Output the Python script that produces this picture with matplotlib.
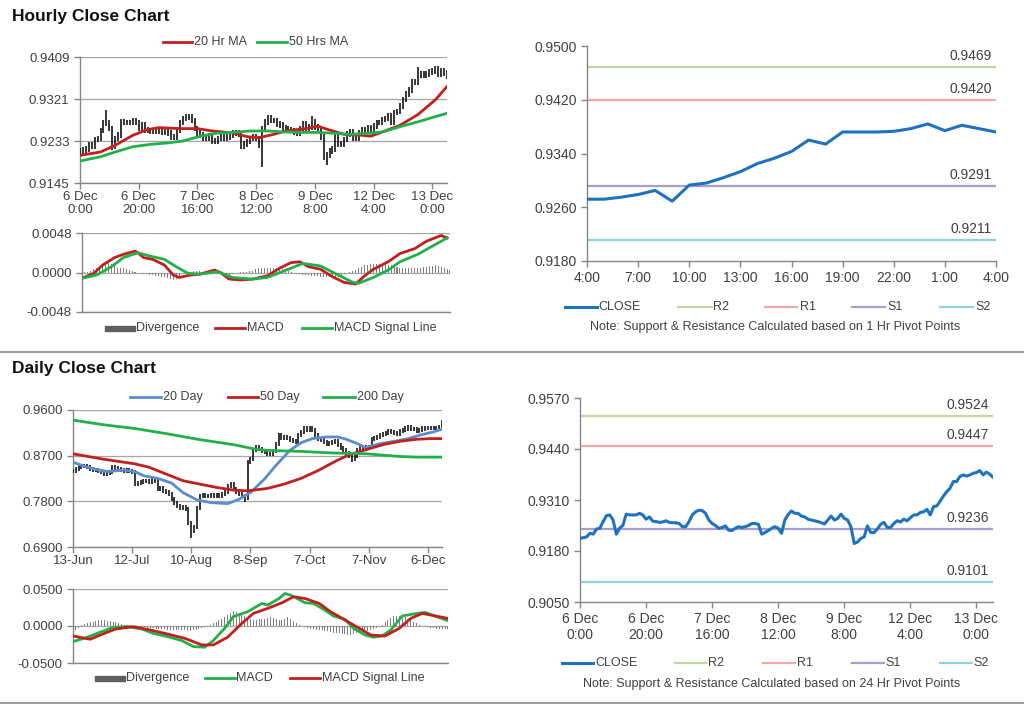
import numpy as np
import matplotlib
matplotlib.use("Agg")
import matplotlib.pyplot as plt
from matplotlib.lines import Line2D
from matplotlib.patches import Rectangle

plt.rcParams['font.family'] = ['Liberation Sans', 'DejaVu Sans']

# ---------------- DATA ----------------
# Hourly closes (6 Dec 0:00 ... 13 Dec ~5:00), one per hour bar
hourly_close = [
    0.9212, 0.9214, 0.9216, 0.9225, 0.9223, 0.9236, 0.9238, 0.9255, 0.9270, 0.9272,
    0.9259, 0.9223, 0.9238, 0.9246, 0.9274, 0.9272, 0.9272, 0.9272, 0.9276, 0.9272,
    0.9261, 0.9267, 0.9256, 0.9255, 0.9253, 0.9254, 0.9257, 0.9253, 0.9252, 0.9252,
    0.9250, 0.9242, 0.9242, 0.9255, 0.9272, 0.9280, 0.9284, 0.9283, 0.9276, 0.9259,
    0.9250, 0.9245, 0.9238, 0.9240, 0.9244, 0.9233, 0.9232, 0.9238, 0.9242, 0.9240,
    0.9242, 0.9245, 0.9250, 0.9250, 0.9248, 0.9223, 0.9227, 0.9232, 0.9238, 0.9242,
    0.9238, 0.9225, 0.9259, 0.9273, 0.9282, 0.9276, 0.9276, 0.9269, 0.9267, 0.9261,
    0.9259, 0.9257, 0.9255, 0.9252, 0.9249, 0.9259, 0.9269, 0.9259, 0.9263, 0.9274,
    0.9263, 0.9259, 0.9242, 0.9199, 0.9203, 0.9212, 0.9216, 0.9244, 0.9227, 0.9227,
    0.9236, 0.9248, 0.9253, 0.9240, 0.9240, 0.9250, 0.9257, 0.9254, 0.9261, 0.9257,
    0.9265, 0.9272, 0.9272, 0.9278, 0.9280, 0.9286, 0.9272, 0.9293, 0.9295, 0.9307,
    0.9320, 0.9331, 0.9340, 0.9357, 0.9357, 0.9370, 0.9374, 0.9371, 0.9374, 0.9378,
    0.9380, 0.9385, 0.9374, 0.9381, 0.9376, 0.9368]
hourly_wick = 0.0006
hourly_low_spikes = {62: 0.9179, 84: 0.9182, 11: 0.9215}
hourly_high_spikes = {9: 0.9297, 36: 0.9290, 64: 0.9288, 79: 0.9285, 115: 0.9388}
hourly_ticks = [0, 20, 40, 60, 80, 100, 120]
hourly_tick_labels = ["6 Dec\n0:00", "6 Dec\n20:00", "7 Dec\n16:00", "8 Dec\n12:00",
                      "9 Dec\n8:00", "12 Dec\n4:00", "13 Dec\n0:00"]

ma20h_x = [0, 7, 12, 18, 23, 27, 34, 40, 45, 52, 57, 61, 66, 70, 77, 81, 85, 90, 96, 99, 103, 109, 115, 121, 125]
ma20h_y = [0.9203, 0.9210, 0.9224, 0.9245, 0.9257, 0.9261, 0.9259, 0.9259, 0.9254, 0.9250,
           0.9242, 0.9240, 0.9247, 0.9254, 0.9259, 0.9264, 0.9256, 0.9247, 0.9245, 0.9243,
           0.9252, 0.9266, 0.9288, 0.9319, 0.9347]
ma50h_x = [0, 7, 12, 18, 24, 30, 35, 41, 46, 52, 58, 64, 69, 75, 81, 87, 92, 98, 103, 109, 115, 121, 125]
ma50h_y = [0.9191, 0.9200, 0.9210, 0.9221, 0.9226, 0.9229, 0.9233, 0.9243, 0.9249, 0.9251,
           0.9254, 0.9254, 0.9252, 0.9251, 0.9251, 0.9249, 0.9247, 0.9249, 0.9252, 0.9263,
           0.9273, 0.9284, 0.9291]

macdh_x = [0, 4, 7, 11, 14, 18, 19, 21, 24, 28, 31, 33, 37, 40, 45, 47, 50, 54, 58, 63, 67, 71,
           74, 77, 81, 85, 89, 93, 96, 99, 104, 108, 113, 117, 122, 124]
macdh_y = [-0.0007, -0.0001, 0.0009, 0.0018, 0.0022, 0.0026, 0.0024, 0.0018, 0.0016, 0.0009,
           -0.0003, -0.0006, -0.0003, -0.0002, 0.0003, 0.0000, -0.0008, -0.0009, -0.0008, -0.0004,
           0.0005, 0.0012, 0.0013, 0.0007, 0.0004, -0.0005, -0.0012, -0.0014, -0.0004, 0.0004,
           0.0013, 0.0023, 0.0029, 0.0038, 0.0045, 0.0042]
sigh_x = [0, 5, 10, 14, 19, 23, 28, 32, 36, 40, 46, 51, 58, 63, 68, 75, 81, 87, 92, 94, 99, 104,
          108, 114, 119, 124]
sigh_y = [-0.0007, -0.0003, 0.0007, 0.0018, 0.0024, 0.0020, 0.0016, 0.0007, -0.0001, -0.0002,
          0.0001, -0.0006, -0.0008, -0.0006, 0.0001, 0.0011, 0.0008, -0.0003, -0.0012, -0.0013,
          -0.0006, 0.0003, 0.0013, 0.0022, 0.0032, 0.0042]
divh = [0.0000, 0.0001, 0.0001, 0.0002, 0.0004, 0.0006, 0.0007, 0.0009, 0.0010, 0.0012,
        0.0010, 0.0009, 0.0006, 0.0006, 0.0005, 0.0004, 0.0003, 0.0002, 0.0001, 0.0000,
        -0.0001, -0.0002, -0.0002, -0.0003, -0.0003, -0.0004, -0.0004, -0.0005, -0.0006, -0.0007,
        -0.0008, -0.0009, -0.0008, -0.0005, 0.0000, 0.0001, 0.0001, 0.0001, 0.0002, 0.0002,
        0.0002, 0.0001, 0.0001, 0.0000, -0.0001, -0.0001, -0.0002, -0.0002, -0.0002, -0.0003,
        -0.0003, -0.0002, -0.0001, 0.0000, 0.0001, 0.0001, 0.0001, 0.0002, 0.0002, 0.0004,
        0.0005, 0.0005, 0.0006, 0.0006, 0.0006, 0.0005, 0.0005, 0.0004, 0.0004, 0.0003,
        0.0002, 0.0001, 0.0000, -0.0002, -0.0002, -0.0003, -0.0003, -0.0003, -0.0004, -0.0004,
        -0.0004, -0.0005, -0.0005, -0.0006, -0.0006, -0.0007, -0.0006, -0.0005, -0.0004, -0.0002,
        -0.0001, 0.0001, 0.0002, 0.0003, 0.0005, 0.0007, 0.0009, 0.0009, 0.0010, 0.0010,
        0.0010, 0.0010, 0.0010, 0.0009, 0.0009, 0.0009, 0.0008, 0.0007, 0.0006, 0.0006,
        0.0005, 0.0005, 0.0005, 0.0005, 0.0006, 0.0006, 0.0007, 0.0007, 0.0008, 0.0008,
        0.0009, 0.0008, 0.0007, 0.0006, 0.0004, 0.0003]

# 1-hour pivot chart (4:00 .. 4:00)
pivot1_labels = ["4:00", "7:00", "10:00", "13:00", "16:00", "19:00", "22:00", "1:00", "4:00"]
pivot1_close = [0.9272, 0.9272, 0.9275, 0.9279, 0.9285, 0.9269, 0.9293, 0.9296, 0.9304, 0.9313,
                0.9325, 0.9333, 0.9343, 0.9360, 0.9354, 0.9372, 0.9372, 0.9372, 0.9373, 0.9377,
                0.9384, 0.9374, 0.9382, 0.9377, 0.9372]
pivot1_levels = {"R2": 0.9469, "R1": 0.9420, "S1": 0.9291, "S2": 0.9211}
pivot24_levels = {"R2": 0.9524, "R1": 0.9447, "S1": 0.9236, "S2": 0.9101}

# Daily closes (13-Jun ... 13-Dec)
daily_close = [
    0.8406, 0.8440, 0.8472, 0.8490, 0.8505, 0.8470, 0.8439, 0.8420, 0.8410, 0.8400,
    0.8370, 0.8339, 0.8350, 0.8372, 0.8472, 0.8450, 0.8440, 0.8420, 0.8406, 0.8420,
    0.8406, 0.8372, 0.8140, 0.8160, 0.8180, 0.8200, 0.8207, 0.8190, 0.8220, 0.8207,
    0.8041, 0.8060, 0.8000, 0.7980, 0.7941, 0.7850, 0.7775, 0.7700, 0.7676, 0.7680,
    0.7642, 0.7377, 0.7211, 0.7300, 0.7676, 0.7908, 0.7920, 0.7900, 0.7910, 0.7920,
    0.7908, 0.7930, 0.7910, 0.7950, 0.7980, 0.8107, 0.8140, 0.8040, 0.7990, 0.7950,
    0.7908, 0.7875, 0.8571, 0.8640, 0.8804, 0.8870, 0.8840, 0.8800, 0.8770, 0.8740,
    0.8737, 0.8800, 0.8936, 0.9102, 0.9050, 0.9070, 0.9040, 0.9000, 0.8990, 0.8970,
    0.9100, 0.9169, 0.9235, 0.9200, 0.9235, 0.9200, 0.9102, 0.9036, 0.9000, 0.8970,
    0.8936, 0.8950, 0.8970, 0.8990, 0.8903, 0.8850, 0.8804, 0.8760, 0.8700, 0.8638,
    0.8700, 0.8804, 0.8850, 0.8870, 0.8860, 0.8870, 0.9036, 0.9050, 0.9069, 0.9100,
    0.9135, 0.9150, 0.9182, 0.9170, 0.9155, 0.9135, 0.9180, 0.9202, 0.9235, 0.9268,
    0.9230, 0.9220, 0.9190, 0.9200, 0.9235, 0.9240, 0.9245, 0.9240, 0.9245, 0.9250,
    0.9268, 0.9368]
daily_wick = 0.004
daily_low_spikes = {42: 0.7078, 61: 0.7780, 99: 0.8570}
daily_ticks = [0, 21, 42, 63, 84, 105, 126]
daily_tick_labels = ["13-Jun", "12-Jul", "10-Aug", "8-Sep", "7-Oct", "7-Nov", "6-Dec"]

ma20d_x = [0, 5, 10, 13, 18, 22, 25, 30, 35, 39, 44, 49, 55, 59, 63, 68, 72, 77, 81, 85, 90,
           94, 97, 101, 104, 109, 114, 119, 123, 128, 131]
ma20d_y = [0.8571, 0.8472, 0.8406, 0.8386, 0.8419, 0.8386, 0.8306, 0.8253, 0.8160, 0.7974,
           0.7828, 0.7775, 0.7755, 0.7842, 0.7974, 0.8240, 0.8505, 0.8804, 0.8956, 0.9036,
           0.9069, 0.9069, 0.9023, 0.8936, 0.8857, 0.8936, 0.8983, 0.9036, 0.9102, 0.9169, 0.9222]
ma50d_x = [0, 10, 22, 27, 33, 39, 45, 51, 57, 62, 69, 75, 81, 87, 93, 98, 104, 110, 116, 122, 127, 131]
ma50d_y = [0.8737, 0.8638, 0.8538, 0.8472, 0.8339, 0.8207, 0.8140, 0.8074, 0.8021, 0.8007,
           0.8054, 0.8140, 0.8253, 0.8406, 0.8585, 0.8717, 0.8817, 0.8917, 0.8983, 0.9023,
           0.9036, 0.9036]
ma200d_x = [0, 10, 22, 33, 45, 57, 64, 69, 81, 93, 104, 116, 122, 131]
ma200d_y = [0.9401, 0.9315, 0.9235, 0.9135, 0.9016, 0.8917, 0.8837, 0.8804, 0.8784, 0.8751,
            0.8737, 0.8684, 0.8671, 0.8671]

macdd_x = [0, 5, 10, 14, 19, 24, 28, 33, 38, 42, 46, 49, 53, 56, 61, 66, 68, 72, 74, 76, 79, 81,
           84, 88, 91, 95, 98, 102, 105, 108, 111, 115, 120, 123, 127, 131]
macdd_y = [-0.0211, -0.0152, -0.0076, -0.0018, -0.0009, -0.0040, -0.0099, -0.0143, -0.0197,
           -0.0278, -0.0287, -0.0197, -0.0031, 0.0126, 0.0193, 0.0305, 0.0283, 0.0372, 0.0439,
           0.0417, 0.0359, 0.0314, 0.0305, 0.0215, 0.0135, 0.0090, -0.0031, -0.0121, -0.0152,
           -0.0135, -0.0054, 0.0135, 0.0170, 0.0184, 0.0126, 0.0072]
sigd_x = [0, 6, 11, 15, 21, 27, 33, 39, 45, 49, 54, 59, 63, 68, 73, 77, 81, 86, 90, 95, 100,
          104, 109, 114, 118, 122, 125, 131]
sigd_y = [-0.0135, -0.0179, -0.0099, -0.0040, -0.0009, -0.0054, -0.0108, -0.0166, -0.0256,
          -0.0256, -0.0152, 0.0036, 0.0170, 0.0238, 0.0314, 0.0395, 0.0372, 0.0305, 0.0193,
          0.0081, -0.0031, -0.0121, -0.0135, -0.0031, 0.0103, 0.0170, 0.0148, 0.0103]
divd = [-0.005, -0.005, -0.003, 0.002, 0.003, 0.004, 0.005, 0.006, 0.007, 0.008,
        0.008, 0.008, 0.007, 0.007, 0.006, 0.005, 0.004, 0.003, 0.002, 0.001,
        0.001, 0.000, -0.001, -0.001, -0.002, -0.002, -0.003, -0.003, -0.003, -0.004,
        -0.004, -0.004, -0.004, -0.005, -0.005, -0.005, -0.005, -0.006, -0.006, -0.006,
        -0.007, -0.007, -0.006, -0.005, -0.004, -0.003, -0.002, -0.001, 0.002, 0.004,
        0.006, 0.008, 0.010, 0.012, 0.015, 0.018, 0.020, 0.019, 0.017, 0.015,
        0.013, 0.012, 0.010, 0.008, 0.008, 0.009, 0.010, 0.010, 0.011, 0.012,
        0.011, 0.009, 0.008, 0.008, 0.010, 0.012, 0.010, 0.007, 0.004, 0.002,
        0.000, -0.002, -0.003, -0.004, -0.004, -0.005, -0.005, -0.006, -0.007, -0.007,
        -0.008, -0.009, -0.010, -0.010, -0.011, -0.011, -0.012, -0.012, -0.011, -0.010,
        -0.010, -0.009, -0.008, -0.007, -0.006, -0.004, -0.003, -0.002, 0.002, 0.005,
        0.008, 0.011, 0.013, 0.014, 0.014, 0.013, 0.012, 0.010, 0.008, 0.006,
        0.004, 0.002, 0.000, -0.001, -0.002, -0.003, -0.003, -0.004, -0.004, -0.004,
        -0.004, -0.004]

# ---------------- STYLE ----------------
W, H = 1024, 706
TXT = '#404040'
SPINE = '#868686'
GRID = '#a6a6a6'
RED = '#c0201e'
GREEN = '#22b04a'
BLUE_MA = '#5b8cd0'
CLOSE_C = '#1f72c0'
LEVEL_COLORS = {"R2": '#c3d69b', "R1": '#f0a8a8', "S1": '#ab9bcf', "S2": '#8fd0e2'}

fig = plt.figure(figsize=(W / 100, H / 100), dpi=100)
fig.patch.set_facecolor('white')


def axpx(l, t, r, b):
    return fig.add_axes([l / W, 1 - b / H, (r - l) / W, (b - t) / H])


def fy(y):
    return 1 - y / H


def style(ax, grid=True):
    for s in ['top', 'right']:
        ax.spines[s].set_visible(False)
    for s in ['left', 'bottom']:
        ax.spines[s].set_color(SPINE)
        ax.spines[s].set_linewidth(1.0)
    ax.tick_params(colors=SPINE, labelcolor=TXT, labelsize=9.5, length=4, width=1)
    if grid:
        ax.yaxis.grid(True, color=GRID, lw=0.9)
        ax.set_axisbelow(True)


def legend_line(x1, x2, y, color, lw=2.0):
    fig.add_artist(Line2D([x1 / W, x2 / W], [fy(y), fy(y)], color=color, lw=lw,
                          transform=fig.transFigure))


def legend_text(x, y, s, size=9):
    fig.text(x / W, fy(y), s, color=TXT, fontsize=size, va='center', ha='left')


def ohlc(ax, closes, wick, lows, highs):
    x = np.arange(len(closes))
    c = np.array(closes)
    o = np.concatenate([[c[0]], c[:-1]])
    hi = np.maximum(o, c) + wick
    lo = np.minimum(o, c) - wick
    for k, v in lows.items():
        lo[k] = v
    for k, v in highs.items():
        hi[k] = v
    ax.vlines(x, lo, hi, color='black', lw=1.1, zorder=3)


# Titles & separators
fig.text(12 / W, fy(16), "Hourly Close Chart", fontsize=12.5, fontweight='bold', color='#111111', va='center')
fig.text(12 / W, fy(369), "Daily Close Chart", fontsize=12.5, fontweight='bold', color='#111111', va='center')
fig.add_artist(Line2D([0, 1], [fy(352), fy(352)], color='#8a8a8a', lw=1.2, transform=fig.transFigure))
fig.add_artist(Line2D([0, 1], [fy(703), fy(703)], color='#8a8a8a', lw=1.2, transform=fig.transFigure))

# ---- Hourly price ----
ax = axpx(80, 57, 447, 183)
style(ax)
ohlc(ax, hourly_close, hourly_wick, hourly_low_spikes, hourly_high_spikes)
ax.plot(ma20h_x, ma20h_y, color=RED, lw=2, zorder=4)
ax.plot(ma50h_x, ma50h_y, color=GREEN, lw=2, zorder=4)
ax.set_ylim(0.9145, 0.9409)
ax.set_yticks([0.9145, 0.9233, 0.9321, 0.9409])
ax.yaxis.set_major_formatter(matplotlib.ticker.FormatStrFormatter('%.4f'))
ax.set_xlim(0, 125)
ax.set_xticks(hourly_ticks)
ax.set_xticklabels(hourly_tick_labels, linespacing=1.1)
ax.tick_params(axis='x', pad=2)
legend_line(163, 192, 42, RED); legend_text(194, 42, "20 Hr MA")
legend_line(257, 287, 42, GREEN); legend_text(289, 42, "50 Hrs MA")

# ---- Hourly MACD ----
ax = axpx(82, 233, 450, 312)
style(ax)
x = np.arange(len(divh))
ax.bar(x, divh, width=0.35, color='#7f7f7f', zorder=2)
ax.plot(macdh_x, macdh_y, color=RED, lw=2, zorder=4)
ax.plot(sigh_x, sigh_y, color=GREEN, lw=2, zorder=4)
ax.set_ylim(-0.0048, 0.0048)
ax.set_yticks([-0.0048, 0.0, 0.0048])
ax.yaxis.set_major_formatter(matplotlib.ticker.FormatStrFormatter('%.4f'))
ax.set_xlim(0, 125)
ax.set_xticks([])
fig.add_artist(Rectangle((105 / W, fy(331)), 30 / W, 5 / H, color='#5f5f5f', transform=fig.transFigure))
legend_text(136, 328, "Divergence")
legend_line(215, 245, 328, RED); legend_text(247, 328, "MACD")
legend_line(302, 332, 328, GREEN); legend_text(334, 328, "MACD Signal Line")

# ---- 1 Hr pivot chart ----
ax = axpx(587, 46, 996, 261)
style(ax, grid=False)
xp = np.arange(len(pivot1_close))
for name, val in pivot1_levels.items():
    ax.axhline(val, color=LEVEL_COLORS[name], lw=1.6, zorder=2)
    ax.annotate(f"{val:.4f}", xy=(0.99, val), xycoords=('axes fraction', 'data'),
                xytext=(0, 3), textcoords='offset points', ha='right', va='bottom',
                fontsize=10, color=TXT)
ax.plot(xp, pivot1_close, color=CLOSE_C, lw=2.2, zorder=3)
ax.set_ylim(0.9180, 0.9500)
ax.set_yticks([0.9180, 0.9260, 0.9340, 0.9420, 0.9500])
ax.yaxis.set_major_formatter(matplotlib.ticker.FormatStrFormatter('%.4f'))
ax.set_xlim(0, len(pivot1_close) - 1)
ax.set_xticks(np.arange(0, len(pivot1_close), 3))
ax.set_xticklabels(pivot1_labels)
ax.tick_params(labelsize=10)
legend_line(565, 597, 307, CLOSE_C, 2.2); legend_text(598, 307, "CLOSE")
legend_line(678, 712, 307, LEVEL_COLORS["R2"], 1.6); legend_text(713, 307, "R2")
legend_line(765, 797, 307, LEVEL_COLORS["R1"], 1.6); legend_text(800, 307, "R1")
legend_line(852, 885, 307, LEVEL_COLORS["S1"], 1.6); legend_text(887, 307, "S1")
legend_line(940, 973, 307, LEVEL_COLORS["S2"], 1.6); legend_text(975, 307, "S2")
fig.text(775 / W, fy(327), "Note: Support & Resistance Calculated based on 1 Hr Pivot Points",
         ha='center', va='center', fontsize=9, color=TXT)

# ---- Daily price ----
ax = axpx(73, 410, 442, 547)
style(ax)
ohlc(ax, daily_close, daily_wick, daily_low_spikes, {})
ax.plot(ma20d_x, ma20d_y, color=BLUE_MA, lw=2, zorder=4)
ax.plot(ma50d_x, ma50d_y, color=RED, lw=2, zorder=4)
ax.plot(ma200d_x, ma200d_y, color=GREEN, lw=2, zorder=4)
ax.set_ylim(0.69, 0.96)
ax.set_yticks([0.69, 0.78, 0.87, 0.96])
ax.yaxis.set_major_formatter(matplotlib.ticker.FormatStrFormatter('%.4f'))
ax.set_xlim(0, 131)
ax.set_xticks(daily_ticks)
ax.set_xticklabels(daily_tick_labels)
ax.tick_params(axis='x', pad=2)
legend_line(130, 161, 397, BLUE_MA); legend_text(163, 397, "20 Day")
legend_line(228, 258, 397, RED); legend_text(260, 397, "50 Day")
legend_line(323, 355, 397, GREEN); legend_text(357, 397, "200 Day")

# ---- Daily MACD ----
ax = axpx(73, 589, 448, 663)
style(ax)
x = np.arange(len(divd))
ax.bar(x, divd, width=0.35, color='#7f7f7f', zorder=2)
ax.plot(macdd_x, macdd_y, color=GREEN, lw=2, zorder=4)
ax.plot(sigd_x, sigd_y, color=RED, lw=2, zorder=4)
ax.set_ylim(-0.05, 0.05)
ax.set_yticks([-0.05, 0.0, 0.05])
ax.yaxis.set_major_formatter(matplotlib.ticker.FormatStrFormatter('%.4f'))
ax.set_xlim(0, 131)
ax.set_xticks([])
fig.add_artist(Rectangle((95 / W, fy(681)), 30 / W, 5 / H, color='#5f5f5f', transform=fig.transFigure))
legend_text(126, 678, "Divergence")
legend_line(205, 235, 678, GREEN); legend_text(236, 678, "MACD")
legend_line(290, 320, 678, RED); legend_text(322, 678, "MACD Signal Line")

# ---- 24 Hr pivot chart ----
ax = axpx(580, 398, 993, 602)
style(ax, grid=False)
xh = np.arange(len(hourly_close))
for name, val in pivot24_levels.items():
    ax.axhline(val, color=LEVEL_COLORS[name], lw=1.6, zorder=2)
    ax.annotate(f"{val:.4f}", xy=(0.99, val), xycoords=('axes fraction', 'data'),
                xytext=(0, 3), textcoords='offset points', ha='right', va='bottom',
                fontsize=10, color=TXT)
ax.plot(xh, hourly_close, color=CLOSE_C, lw=2.2, zorder=3)
ax.set_ylim(0.9050, 0.9570)
ax.set_yticks([0.9050, 0.9180, 0.9310, 0.9440, 0.9570])
ax.yaxis.set_major_formatter(matplotlib.ticker.FormatStrFormatter('%.4f'))
ax.set_xlim(0, 125)
ax.set_xticks(hourly_ticks)
ax.set_xticklabels(hourly_tick_labels, linespacing=1.1)
ax.tick_params(labelsize=10)
legend_line(562, 593, 663, CLOSE_C, 2.2); legend_text(595, 663, "CLOSE")
legend_line(675, 706, 663, LEVEL_COLORS["R2"], 1.6); legend_text(708, 663, "R2")
legend_line(763, 795, 663, LEVEL_COLORS["R1"], 1.6); legend_text(797, 663, "R1")
legend_line(852, 884, 663, LEVEL_COLORS["S1"], 1.6); legend_text(885, 663, "S1")
legend_line(940, 972, 663, LEVEL_COLORS["S2"], 1.6); legend_text(973, 663, "S2")
fig.text(772 / W, fy(684), "Note: Support & Resistance Calculated based on 24 Hr Pivot Points",
         ha='center', va='center', fontsize=9, color=TXT)

fig.savefig("out.png", dpi=100, facecolor='white')
